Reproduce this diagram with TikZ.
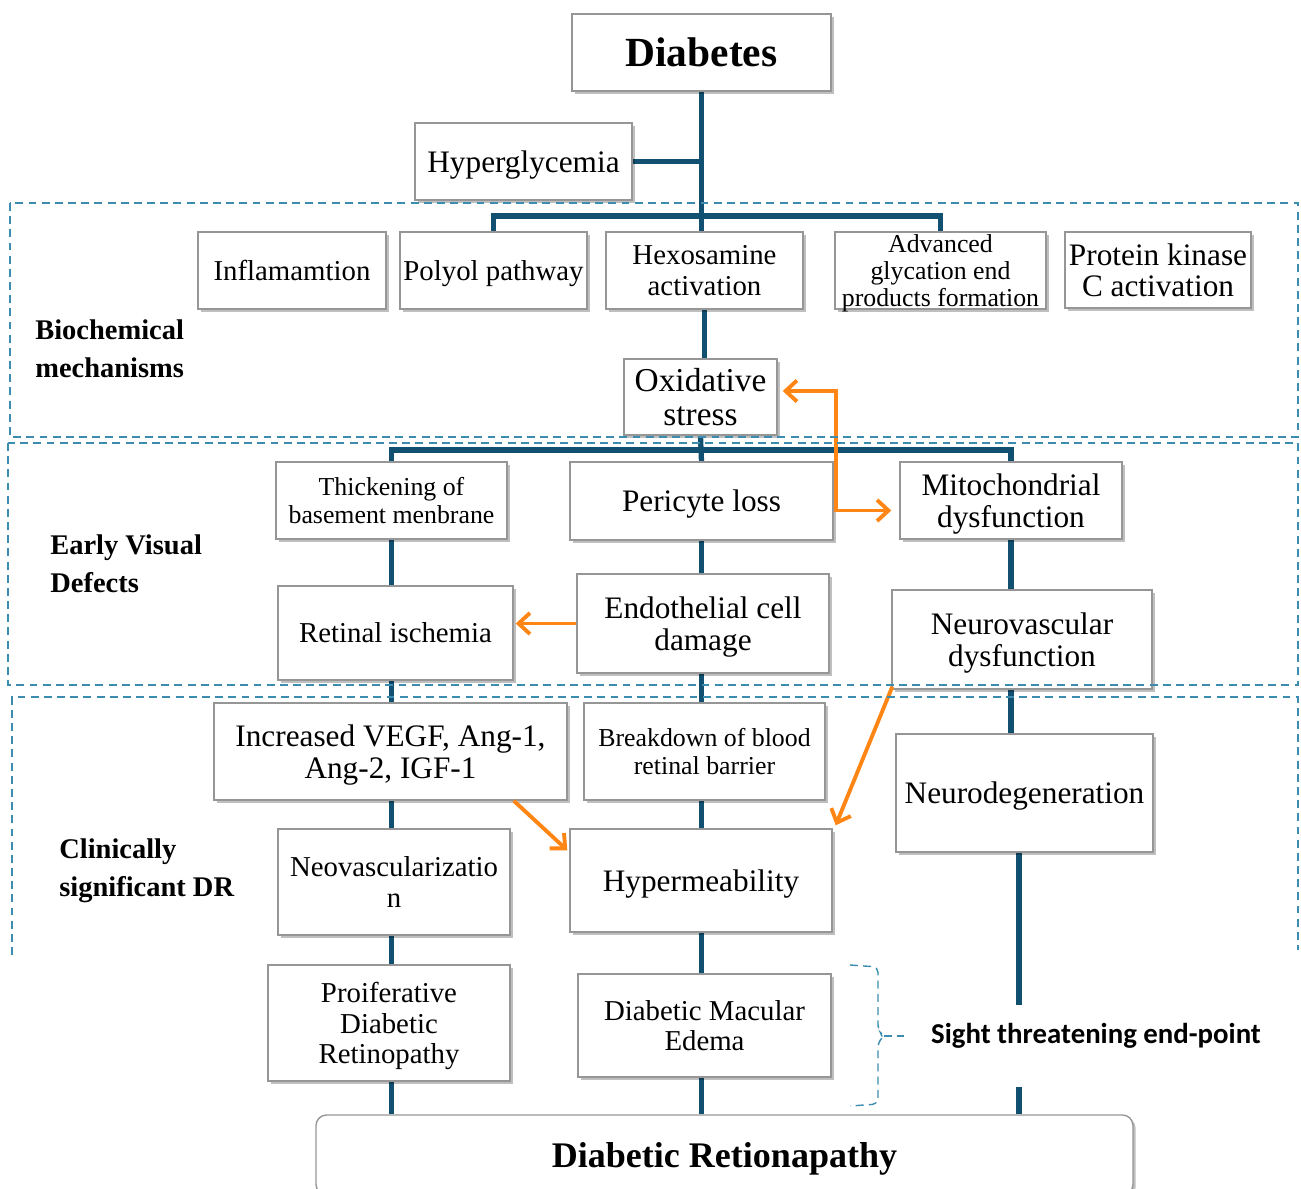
\documentclass[tikz,border=0pt]{standalone}
\usepackage{fontspec}
\setmainfont{Liberation Serif}
\newfontfamily\calibri{Carlito}
\usepackage{tikz}
\usetikzlibrary{positioning,calc,arrows.meta,shadows,backgrounds}

\definecolor{linkblue}{RGB}{17,80,112}
\definecolor{zonecol}{RGB}{60,140,175}
\definecolor{feedorange}{RGB}{255,133,20}
\definecolor{boxgray}{RGB}{150,150,150}

\tikzset{
  box/.style={draw=boxgray, line width=0.8pt, fill=white, align=center, inner sep=1pt, text depth=0pt,
    drop shadow={shadow xshift=1.5pt, shadow yshift=-1.5pt, opacity=0.25, fill=black}},
  wh/.style 2 args={minimum width=#1*0.02cm, minimum height=#2*0.02cm},
  txt/.style={font=\fontsize{16.4}{17.4}\selectfont},
  txtl/.style={font=\fontsize{17.8}{18}\selectfont},
  smalltxt/.style={font=\fontsize{14.7}{15.6}\selectfont},
  stage/.style={font=\fontsize{16.2}{21.6}\selectfont\bfseries, align=left, anchor=west, inner sep=0pt},
  conn/.style={draw=linkblue, line width=3pt},
  feed/.style={draw=feedorange, line width=2.2pt},
  barb/.style={-{Straight Barb[length=6.5pt, width=12pt, line width=2.2pt]}},
  zone/.style={draw=zonecol, line width=0.8pt, dash pattern=on 4.5pt off 3pt},
}

\begin{document}
\begin{tikzpicture}[x=0.02cm, y=-0.02cm]
    \useasboundingbox (0,0) rectangle (1301,1189);

    % top
    \node[box, wh={259}{77}, font=\fontsize{23.6}{25}\selectfont\bfseries] (diab) at (701.5,52.5) {Diabetes};
    \node[box, txtl, wh={217}{77}] (hyper) at (523.5,161.5) {Hyperglycemia};

    % biochemical mechanisms
    \node[box, txt, wh={188}{77}] (infl) at (292,270.5) {Inflamamtion};
    \node[box, txt, wh={187}{77}] (polyol) at (493.5,270.5) {Polyol pathway};
    \node[box, txt, wh={197}{77}] (hexo) at (704.5,270.5) {Hexosamine\\activation};
    \node[box, smalltxt, wh={211}{77}] (age) at (940.5,270.5) {Advanced\\glycation end\\products formation};
    \node[box, txtl, wh={186}{76}] (pkc) at (1158,270) {Protein kinase\\C activation};
    \node[box, wh={153}{76}, text depth=, font=\fontsize{19}{19.4}\selectfont] (oxi) at (700.5,397) {Oxidative\\stress};

    % early visual defects
    \node[box, smalltxt, wh={231}{77}] (thick) at (391.5,500.5) {Thickening of\\basement menbrane};
    \node[box, txtl, wh={263}{78}] (peri) at (701.5,501) {Pericyte loss};
    \node[box, txtl, wh={222}{77}] (mito) at (1011,500.5) {Mitochondrial\\dysfunction};
    \node[box, txt, wh={235}{94}] (isch) at (395.5,633) {Retinal ischemia};
    \node[box, txtl, wh={252}{99}] (endo) at (703,623.5) {Endothelial cell\\damage};
    \node[box, txtl, wh={260}{99}] (neuv) at (1022,639.5) {Neurovascular\\dysfunction};

    % clinically significant DR
    \node[box, txtl, wh={353}{97}] (vegf) at (390.5,751.5) {Increased VEGF, Ang-1,\\Ang-2, IGF-1};
    \node[box, smalltxt, wh={241}{97}] (bbrb) at (704.5,751.5) {Breakdown of blood\\retinal barrier};
    \node[box, txtl, wh={257}{118}] (neud) at (1024.5,793) {Neurodegeneration};
    \node[box, txt, wh={232}{106}] (neov) at (394,882) {Neovascularizatio\\n};
    \node[box, txtl, wh={262}{103}] (hyperm) at (701,880.5) {Hypermeability};
    \node[box, txt, wh={242}{116}] (pdr) at (389,1023) {Proiferative\\Diabetic\\Retinopathy};
    \node[box, txt, wh={253}{103}] (dme) at (704.5,1025.5) {Diabetic Macular\\Edema};
    \node[box, rounded corners=6pt, wh={817}{80}, font=\fontsize{20.5}{22}\selectfont\bfseries] (dr) at (724.5,1155) {Diabetic Retionapathy};

    % stage labels
    \node[stage] (lblbio) at (35,349) {Biochemical\\mechanisms};
    \node[stage] (lblearly) at (50,564) {Early Visual\\Defects};
    \node[stage] (lblclin) at (59,871) {Clinically\\significant DR};
    \node[font=\fontsize{16.4}{18}\selectfont\calibri\bfseries, inner sep=0pt] (sight) at (1096,1036) {Sight threatening end-point};

    \coordinate (bar1) at (701,216);
    \coordinate (bar2) at (701,450);
    \coordinate (gapA) at (1019,1005);
    \coordinate (gapB) at (1019,1087);

    \begin{scope}[on background layer]
    \draw[conn] (diab.south) -- (diab.south |- hexo.north); % trunk
    \draw[conn] (hyper.east) -- (hyper.east -| diab.south);
    \draw[conn] (polyol.north) |- (bar1) -| (age.north);
    \draw[conn] (hexo.south) -- (hexo.south |- oxi.north);
    \draw[conn] (oxi.south) -- (bar2);
    \draw[conn] (thick.north) |- (bar2) -| (mito.north);
    \draw[conn] (bar2) -- (peri.north);
    % left column
    \draw[conn] (thick.south) -- (thick.south |- isch.north);
    \draw[conn] (isch.south -| thick.south) -- (thick.south |- vegf.north);
    \draw[conn] (vegf.south -| thick.south) -- (thick.south |- neov.north);
    \draw[conn] (neov.south -| thick.south) -- (thick.south |- pdr.north);
    \draw[conn] (pdr.south -| thick.south) -- (thick.south |- dr.north);
    % middle column
    \draw[conn] (peri.south -| diab.south) -- (diab.south |- endo.north);
    \draw[conn] (endo.south -| diab.south) -- (diab.south |- bbrb.north);
    \draw[conn] (bbrb.south -| diab.south) -- (diab.south |- hyperm.north);
    \draw[conn] (hyperm.south -| diab.south) -- (diab.south |- dme.north);
    \draw[conn] (dme.south -| diab.south) -- (diab.south |- dr.north);
    % right column
    \draw[conn] (mito.south) -- (mito.south |- neuv.north);
    \draw[conn] (neuv.south -| mito.south) -- (mito.south |- neud.north);
    \draw[conn] (neud.south -| gapA) -- (gapA);
    \draw[conn] (gapB) -- (gapB |- dr.north);
    \end{scope}

    % feedback arrows
    \draw[feed, {Straight Barb[length=6.5pt, width=12pt, line width=2.2pt]}-{Straight Barb[length=6.5pt, width=12pt, line width=2.2pt]}]
      ($(oxi.east)+(5,-6)$) -| ($(mito.west)+(-63,10)$) -- ($(mito.west)+(-8,10)$);
    \draw[feed, barb] (endo.west) -- ($(endo.west -| isch.east)+(2,0)$);
    \draw[feed, barb] ($(vegf.south east)+(-54,0)$) -- ($(hyperm.north west)+(-2,22)$);
    \draw[feed, barb] ($(neuv.south west)+(1,-3)$) -- ($(hyperm.north east)+(3,-3)$);

    % stage zones
    \draw[zone] (10,203) rectangle (1298,437);
    \draw[zone] (8,443) rectangle (1298,685);
    \draw[zone] (12,955) -- (12,697) -- (1298,697) -- (1298,950);

    % bracket
    \draw[zone, rounded corners=3pt] (850,965) -- (878,967) -- (878,1030) -- (884,1036) -- (878,1042) -- (878,1104) -- (850,1106);
    \draw[zone] (884,1036) -- (904,1036);
\end{tikzpicture}
\end{document}
